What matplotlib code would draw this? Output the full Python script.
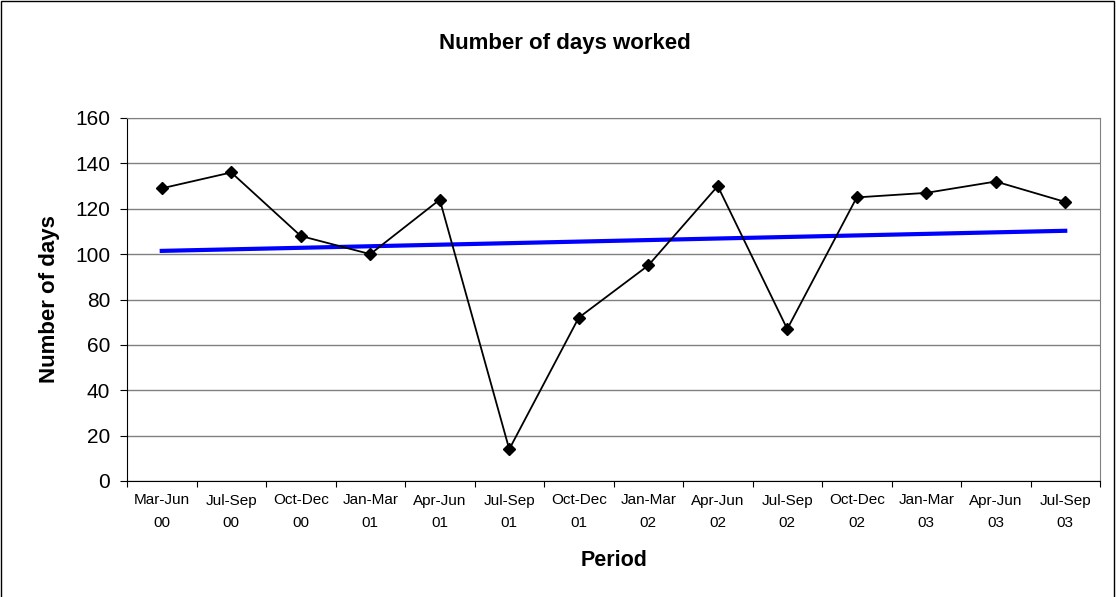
import numpy as np
import matplotlib
matplotlib.use('Agg')
import matplotlib.pyplot as plt
from matplotlib.patches import Rectangle

plt.rcParams['font.family'] = ['Liberation Sans', 'DejaVu Sans']

periods = ['Mar-Jun\n00', 'Jul-Sep\n00', 'Oct-Dec\n00', 'Jan-Mar\n01', 'Apr-Jun\n01',
           'Jul-Sep\n01', 'Oct-Dec\n01', 'Jan-Mar\n02', 'Apr-Jun\n02', 'Jul-Sep\n02',
           'Oct-Dec\n02', 'Jan-Mar\n03', 'Apr-Jun\n03', 'Jul-Sep\n03']
days = [129, 136, 108, 100, 124, 14, 72, 95, 130, 67, 125, 127, 132, 123]

x = np.arange(len(days))
# linear trendline, as excel draws it
slope, icept = np.polyfit(x, days, 1)

W, H = 1116, 597
fig = plt.figure(figsize=(W / 100, H / 100), dpi=100)
# chart area frame (bottom edge falls outside the image)
fig.patches.append(Rectangle((1 / W, -0.05), 1 - 3 / W, 1.05 - 1 / H, transform=fig.transFigure,
                             fill=False, edgecolor='black', linewidth=1))
ax = fig.add_axes([127 / W, 1 - 481 / H, (1100 - 127) / W, (481 - 118) / H])

ax.plot(x, days, color='black', linewidth=1.3, marker='D', markersize=6, zorder=3)
ax.plot(x, slope * x + icept, color='#0000ff', linewidth=3, zorder=2)

ax.set_xlim(-0.5, len(days) - 0.5)
ax.set_ylim(0, 160)
ax.set_yticks(range(0, 161, 20))
ax.yaxis.grid(True, color='#808080', linewidth=1)
ax.set_axisbelow(True)

ax.set_xticks(np.arange(-0.5, len(days), 1))
ax.set_xticklabels([])
ax.set_xticks(x, minor=True)
ax.set_xticklabels(periods, minor=True, fontsize=11, linespacing=1.8)
ax.tick_params(axis='x', which='minor', length=0, pad=9)
ax.tick_params(axis='x', which='major', length=4, direction='out')
ax.tick_params(axis='y', length=5, pad=7, labelsize=15)

for s in ['top', 'right']:
    ax.spines[s].set_color('#808080')
for s in ['left', 'bottom']:
    ax.spines[s].set_color('black')

fig.text(565 / W, 1 - 43.5 / H, 'Number of days worked', fontsize=16, fontweight='bold',
         ha='center', va='center')
fig.text(50 / W, 1 - 299.5 / H, 'Number of days', fontsize=16, fontweight='bold',
         ha='center', va='center', rotation=90)
fig.text(614 / W, 1 - 560 / H, 'Period', fontsize=15.5, fontweight='bold',
         ha='center', va='center')

fig.savefig('out.png', dpi=100)
